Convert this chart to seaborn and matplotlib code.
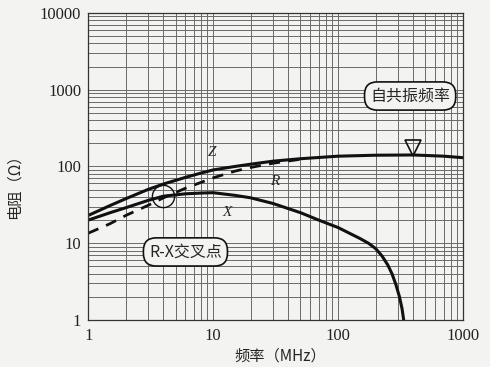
import numpy as np
import pandas as pd
import seaborn as sns
import matplotlib.pyplot as plt
from matplotlib.ticker import LogLocator, NullFormatter, FixedLocator, FixedFormatter

## data
freq_z = [1, 1.5, 2, 3, 4, 6, 8, 10, 15, 20, 30, 50, 100, 200, 400, 700, 1000]
z_vals = [23, 31, 38, 50, 59, 72, 82, 90, 100, 107, 117, 126, 136, 140, 141, 136, 130]

freq_r = [1, 1.5, 2, 3, 4, 6, 8, 10, 15, 20, 30, 50]
r_vals = [13.5, 18, 23, 31, 39, 52, 62, 71, 87, 97, 110, 124]

freq_x = [1, 1.5, 2, 3, 4, 6, 8, 10, 15, 20, 30, 50, 70, 100, 150, 175, 200,
          225, 250, 270, 290, 310, 325, 338]
x_vals = [20, 25, 29, 36, 41, 44, 45, 45.5, 42, 39, 33, 25, 20, 16, 11.5, 10, 8.5,
          6.8, 5.2, 4.0, 2.9, 2.0, 1.4, 0.9]

cross_f, cross_val = 4.0, 41      # R-X crossing
srf = 400                          # self-resonance frequency

x_ticks = [1, 10, 100, 1000]
y_ticks = [1, 10, 100, 1000, 10000]

## plot
sns.set_style('white')
plt.rcParams['font.family'] = ['Liberation Serif', 'Noto Sans CJK SC', 'DejaVu Sans']
cjk = ['Noto Sans CJK SC', 'DejaVu Sans']
paper = '#f3f3f1'

fig = plt.figure(figsize=(4.9, 3.67), dpi=100, facecolor=paper)
ax = fig.add_axes([0.18, 0.128, 0.765, 0.837], facecolor=paper)
ax.set_xscale('log')
ax.set_yscale('log')

sns.lineplot(x=freq_z, y=z_vals, ax=ax, color='#111111', lw=2.2)
sns.lineplot(x=freq_r, y=r_vals, ax=ax, color='#111111', lw=2.0, linestyle=(0, (4, 3)))
sns.lineplot(x=freq_x, y=x_vals, ax=ax, color='#111111', lw=2.2)

ax.plot([cross_f], [cross_val], 'o', mfc='none', mec='#111111', mew=1.0, ms=16)
srf_y = np.exp(np.interp(np.log(srf), np.log(freq_z), np.log(z_vals))) * 1.22
ax.plot([srf], [srf_y], 'v', mfc='none', mec='#111111', mew=1.2, ms=12)

ax.set_xlim(1, 1000)
ax.set_ylim(1, 10000)
ax.xaxis.set_major_locator(FixedLocator(x_ticks))
ax.xaxis.set_major_formatter(FixedFormatter([str(t) for t in x_ticks]))
ax.yaxis.set_major_locator(FixedLocator(y_ticks))
ax.yaxis.set_major_formatter(FixedFormatter([str(t) for t in y_ticks]))
ax.xaxis.set_minor_locator(LogLocator(base=10, subs=range(2, 10)))
ax.yaxis.set_minor_locator(LogLocator(base=10, subs=range(2, 10)))
ax.xaxis.set_minor_formatter(NullFormatter())
ax.yaxis.set_minor_formatter(NullFormatter())
ax.tick_params(which='both', length=0, labelsize=12, colors='#222222')
ax.tick_params(axis='x', pad=6)
ax.tick_params(axis='y', pad=5)

ax.grid(True, which='both', color='#6a6a6a', lw=0.7)
ax.set_axisbelow(True)
for s in ax.spines.values():
    s.set_color('#333333')
    s.set_linewidth(0.9)

ax.set_xlabel('频率（MHz）', family=cjk, fontsize=11)
ax.set_ylabel('电阻（Ω）', family=cjk, fontsize=11)
ax.xaxis.set_label_coords(0.512, -0.09)
ax.yaxis.set_label_coords(-0.176, 0.446)

ax.text(9.8, 150, 'Z', style='italic', fontsize=11, ha='center', va='center')
ax.text(31, 63, 'R', style='italic', fontsize=11, ha='center', va='center')
ax.text(12.9, 25.5, 'X', style='italic', fontsize=11, ha='center', va='center')

box = dict(boxstyle='round,pad=0.35,rounding_size=0.8', fc=paper, ec='#111111', lw=1.2)
ax.text(377, 826, '自共振频率', family=cjk, fontsize=11.5, ha='center', va='center', bbox=box)
ax.text(6.0, 7.7, 'R-X交叉点', family=cjk, fontsize=11.5, ha='center', va='center', bbox=box)

plt.savefig('out.png', dpi=100, facecolor=paper)
